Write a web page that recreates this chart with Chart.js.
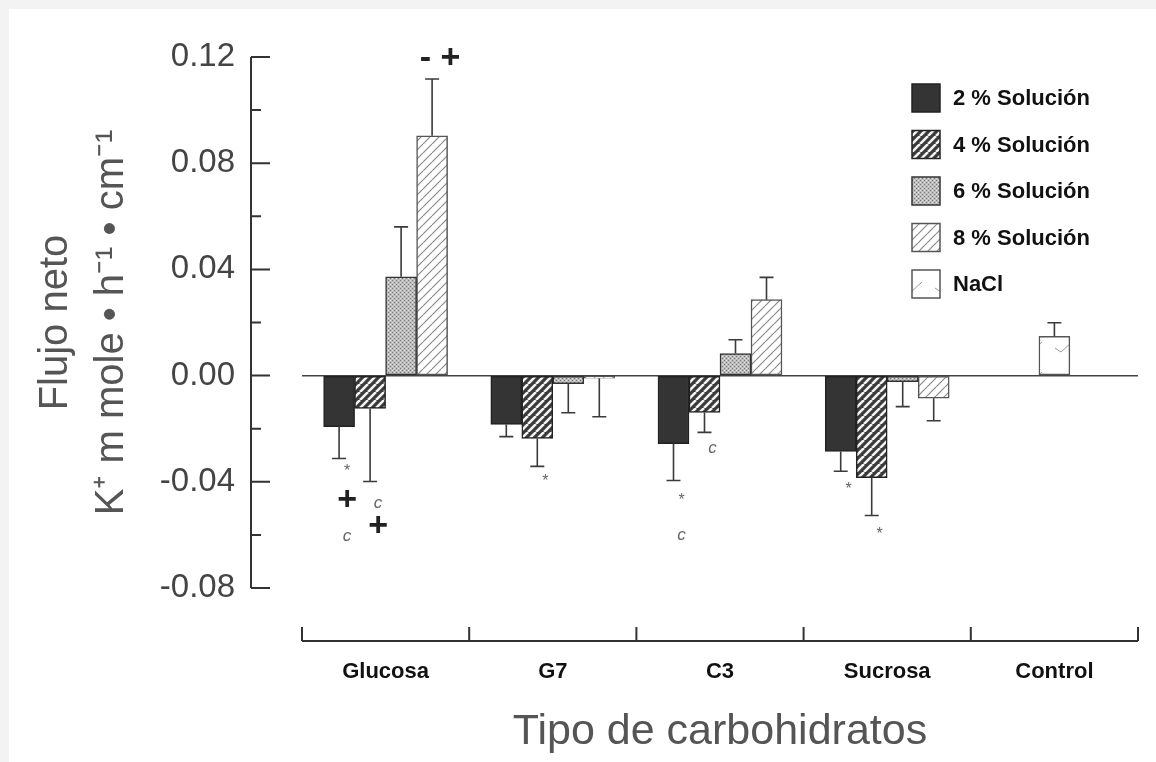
<!DOCTYPE html>
<html>
<head>
<meta charset="utf-8">
<title>Flujo neto de K+</title>
<script src="https://cdn.jsdelivr.net/npm/chart.js@4.4.1/dist/chart.umd.min.js"></script>
<style>
  body { margin: 0; background: #f3f3f3; overflow: hidden; }
  #wrap { width: 1156px; height: 762px; }
</style>
</head>
<body>
<div id="wrap"><canvas id="chart" width="1156" height="762"></canvas></div>
<script>
const categories = ['Glucosa', 'G7', 'C3', 'Sucrosa', 'Control'];
const seriesNames = ['2 % Solución', '4 % Solución', '6 % Solución', '8 % Solución', 'NaCl'];

// net flux per carbohydrate, one array per concentration
const sol2 = [-0.0192, -0.0184, -0.0256, -0.0286, null];
const sol4 = [-0.0124, -0.0237, -0.0139, -0.0384, null];
const sol6 = [0.0372, -0.0030, 0.0083, -0.0023, null];
const sol8 = [0.0903, -0.0010, 0.0286, -0.0085, null];
const nacl = [null, null, null, null, 0.0148];

// one-sided error bars
const err2 = [0.0120, 0.0046, 0.0139, 0.0074, null];
const err4 = [0.0275, 0.0105, 0.0075, 0.0143, null];
const err6 = [0.0188, 0.0110, 0.0052, 0.0094, null];
const err8 = [0.0214, 0.0145, 0.0084, 0.0085, null];
const errNacl = [null, null, null, null, 0.0051];

const yTicks = [-0.08, -0.04, 0.00, 0.04, 0.08, 0.12];

// significance marks: [category, series, symbol, value]
const marks = [
  [0, 0, '*', -0.036], [0, 0, '+', -0.047], [0, 0, 'c', -0.0605],
  [0, 1, 'c', -0.048], [0, 1, '+', -0.057],
  [0, 3, '- +', 0.1195],
  [1, 1, '*', -0.040],
  [2, 0, '*', -0.047], [2, 0, 'c', -0.060], [2, 1, 'c', -0.0275],
  [3, 0, '*', -0.043], [3, 1, '*', -0.060]
];

const FONT = '"Liberation Sans", Arial, Helvetica, sans-serif';
const canvas = document.getElementById('chart');
const ctx = canvas.getContext('2d');

function makePattern(size, paint) {
  const c = document.createElement('canvas');
  c.width = size; c.height = size;
  paint(c.getContext('2d'), size);
  return ctx.createPattern(c, 'repeat');
}

function stripes(bg, fg, lw) {
  return (g, s) => {
    g.fillStyle = bg; g.fillRect(0, 0, s, s);
    g.strokeStyle = fg; g.lineWidth = lw;
    for (let k = -1; k <= 1; k++) {
      g.beginPath(); g.moveTo(k * s, s); g.lineTo(k * s + s, 0); g.stroke();
    }
  };
}

const fill2 = '#343434';
const fill4 = makePattern(8, stripes('#3a3a3a', '#f2f2f2', 2.6));
const fill6 = makePattern(4, (g, s) => {
  g.fillStyle = '#bcbcbc'; g.fillRect(0, 0, s, s);
  g.fillStyle = '#777'; g.fillRect(0, 0, 1, 1); g.fillRect(2, 2, 1, 1);
  g.fillStyle = '#e2e2e2'; g.fillRect(2, 0, 1, 1); g.fillRect(0, 2, 1, 1);
});
const fill8 = makePattern(9, stripes('#ffffff', '#8a8a8a', 1.2));
const fillNacl = makePattern(30, (g, s) => {
  g.fillStyle = '#fff'; g.fillRect(0, 0, s, s);
  g.strokeStyle = '#999'; g.lineWidth = 1;
  g.beginPath(); g.moveTo(5, 18); g.lineTo(11, 22); g.lineTo(22, 12); g.stroke();
});

function ds(label, data, errors, bg, border) {
  return {
    label, data, errors,
    backgroundColor: bg,
    borderColor: border,
    borderWidth: 1.5,
    borderSkipped: false,
    barThickness: 31,
    skipNull: true
  };
}

const decorPlugin = {
  id: 'decor',
  beforeDraw(chart) {
    const c = chart.ctx;
    c.save();
    c.fillStyle = '#f3f3f3'; c.fillRect(0, 0, chart.width, chart.height);
    c.fillStyle = '#ffffff'; c.fillRect(9, 9, chart.width - 9, chart.height - 9);
    c.restore();
  },
  afterDatasetsDraw(chart) {
    const c = chart.ctx;
    const y = chart.scales.y;
    // error bars
    c.save();
    c.strokeStyle = '#3a3a3a'; c.lineWidth = 1.6;
    chart.data.datasets.forEach((d, di) => {
      chart.getDatasetMeta(di).data.forEach((bar, i) => {
        const v = d.data[i], e = d.errors[i];
        if (v == null || e == null) return;
        const y0 = y.getPixelForValue(v);
        const y1 = y.getPixelForValue(v >= 0 ? v + e : v - e);
        c.beginPath();
        c.moveTo(bar.x, y0); c.lineTo(bar.x, y1);
        c.moveTo(bar.x - 7, y1); c.lineTo(bar.x + 7, y1);
        c.stroke();
      });
    });
    // significance marks
    c.textAlign = 'center'; c.textBaseline = 'middle';
    marks.forEach(([cat, si, sym, val]) => {
      const bar = chart.getDatasetMeta(si).data[cat];
      const px = bar.x + 8, py = y.getPixelForValue(val);
      if (sym.includes('+')) {
        c.font = 'bold 34px ' + FONT; c.fillStyle = '#222';
      } else if (sym === 'c') {
        c.font = 'italic 17px ' + FONT; c.fillStyle = '#666';
      } else {
        c.font = '16px ' + FONT; c.fillStyle = '#666';
      }
      c.fillText(sym, px, py);
    });
    c.restore();
  },
  afterDraw(chart) {
    const c = chart.ctx;
    const {y, x} = chart.scales;
    const area = chart.chartArea;
    c.save();
    c.strokeStyle = '#333'; c.lineWidth = 2;
    // y axis line with inward ticks, set apart from the plot
    const ax = area.left - 51;
    c.beginPath();
    c.moveTo(ax, y.getPixelForValue(y.max));
    c.lineTo(ax, y.getPixelForValue(y.min));
    y.ticks.forEach(t => {
      const major = yTicks.some(v => Math.abs(v - t.value) < 1e-9);
      const py = y.getPixelForValue(t.value);
      c.moveTo(ax, py); c.lineTo(ax + (major ? 19 : 10), py);
    });
    c.stroke();
    // x axis bracket with category separators
    const by = area.bottom + 53;
    c.beginPath();
    c.moveTo(x.getPixelForValue(-0.5), by);
    c.lineTo(x.getPixelForValue(categories.length - 0.5), by);
    for (let i = 0; i <= categories.length; i++) {
      const px = x.getPixelForValue(i - 0.5);
      c.moveTo(px, by); c.lineTo(px, by - 14);
    }
    c.stroke();
    // legend
    const lx = area.right - 226;
    chart.data.datasets.forEach((d, i) => {
      const cy = 98 + i * 46.5;
      c.fillStyle = d.backgroundColor;
      c.fillRect(lx, cy - 14, 28, 28);
      c.lineWidth = 1.5; c.strokeStyle = d.borderColor;
      c.strokeRect(lx, cy - 14, 28, 28);
      c.fillStyle = '#111';
      c.font = 'bold 22px ' + FONT;
      c.textAlign = 'left'; c.textBaseline = 'middle';
      c.fillText(d.label, lx + 41, cy + 1);
    });
    c.restore();
  }
};

new Chart(canvas, {
  type: 'bar',
  data: {
    labels: categories,
    datasets: [
      ds(seriesNames[0], sol2, err2, fill2, '#222'),
      ds(seriesNames[1], sol4, err4, fill4, '#222'),
      ds(seriesNames[2], sol6, err6, fill6, '#333'),
      ds(seriesNames[3], sol8, err8, fill8, '#555'),
      ds(seriesNames[4], nacl, errNacl, fillNacl, '#555')
    ]
  },
  options: {
    responsive: false,
    animation: false,
    devicePixelRatio: 1,
    layout: { padding: { top: 57, right: 18, left: 0, bottom: 0 } },
    plugins: { legend: { display: false }, tooltip: { enabled: false } },
    scales: {
      x: {
        grid: { display: false, drawTicks: false },
        border: { display: false },
        ticks: { color: '#111', padding: 71, font: { family: FONT, size: 22, weight: 'bold' } },
        title: {
          display: true, text: 'Tipo de carbohidratos', color: '#555',
          font: { family: FONT, size: 43 }, padding: { top: 0, bottom: 4 }
        },
        afterFit(s) { s.height = 174; s.paddingLeft = 0; s.paddingRight = 0; }
      },
      y: {
        min: -0.08, max: 0.12,
        border: { display: false },
        grid: {
          drawTicks: false, lineWidth: 1.5,
          color: c => Math.abs(c.tick.value) < 1e-9 ? '#444' : 'rgba(0,0,0,0)'
        },
        ticks: {
          stepSize: 0.02, padding: 67, color: '#444',
          font: { family: FONT, size: 33 },
          callback: v => yTicks.some(t => Math.abs(t - v) < 1e-9) ? v.toFixed(2) : ''
        },
        title: {
          display: true, text: ['Flujo neto', 'K⁺ m mole • h⁻¹ • cm⁻¹'], color: '#555',
          font: { family: FONT, size: 40, lineHeight: 1.4 }, padding: { top: 28, bottom: 0 }
        },
        afterFit(s) { s.width = 302; s.paddingTop = 0; s.paddingBottom = 0; }
      }
    }
  },
  plugins: [decorPlugin]
});
</script>
</body>
</html>
